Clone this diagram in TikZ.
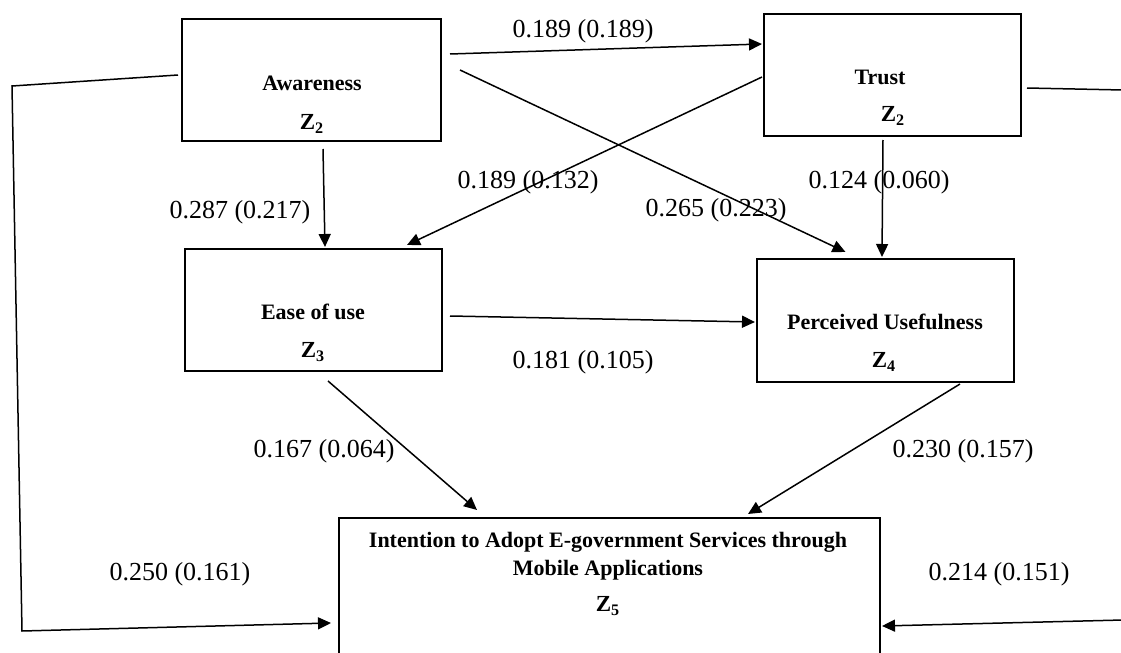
\documentclass[tikz,border=0pt]{standalone}
\usepackage{fontspec}
\setmainfont{Liberation Serif}
\usetikzlibrary{arrows.meta,calc}
\begin{document}
\begin{tikzpicture}[x=0.5pt,y=-0.5pt,
  box/.style={draw=black,line width=0.8pt,inner sep=0pt,outer sep=0pt},
  ttl/.style={font=\fontsize{11}{13}\selectfont\bfseries,inner sep=0pt,align=center},
  zz/.style={font=\fontsize{11.5}{13}\selectfont\bfseries,inner sep=0pt},
  lbl/.style={font=\fontsize{13}{15}\selectfont,inner sep=0pt},
  conn/.style={line width=0.75pt,-{Triangle[length=6.5pt,width=6pt]}},
  plain/.style={line width=0.75pt}]
\path[use as bounding box,clip] (0,0) rectangle (1121,653);
\fill[white] (0,0) rectangle (1121,653);
% boxes
\node[box,minimum width=129.5pt,minimum height=61pt] (aw) at (311.5,80) {};
\node[box,minimum width=128.5pt,minimum height=61pt] (tr) at (892.5,75) {};
\node[box,minimum width=128.5pt,minimum height=61pt] (eu) at (313.5,310) {};
\node[box,minimum width=128.5pt,minimum height=61.5pt] (pu) at (885.5,320.5) {};
\node[box,minimum width=270.5pt,minimum height=91pt] (in) at (609.5,609) {};
% box texts
\node[ttl] (awt) at (312,83) {Awareness};
\node[zz] (awz) at (312,124) {Z\textsubscript{2}};
\node[ttl] (trt) at (880,77) {Trust};
\node[zz] (trz) at (893,116) {Z\textsubscript{2}};
\node[ttl] (eut) at (313,312) {Ease of use};
\node[zz] (euz) at (313,352) {Z\textsubscript{3}};
\node[ttl] (put) at (885,322) {Perceived Usefulness};
\node[zz] (puz) at (884,362) {Z\textsubscript{4}};
\node[ttl] (int1) at (608,542) {Intention to Adopt E-government Services through};
\node[ttl] (int2) at (608,570) {Mobile Applications};
\node[zz] (inz) at (608,606) {Z\textsubscript{5}};
% connectors
\draw[conn] ($(aw.east)+(9,-26)$) -- ($(tr.west)+(-2,-31)$);
\draw[conn] ($(aw.east)+(19,-10)$) -- ($(pu.north)+(-40,-7)$);
\draw[conn] ($(tr.west)+(-2,2)$) -- ($(eu.north)+(93.5,-4)$);
\draw[conn] ($(aw.south)+(11.5,8)$) -- ($(eu.north)+(11.5,-2)$);
\draw[conn] ($(tr.south)+(-9.5,4)$) -- ($(pu.north)+(-3.5,-2)$);
\draw[conn] ($(eu.east)+(8,6)$) -- ($(pu.west)+(-2,1.5)$);
\draw[conn] ($(eu.south)+(14.5,10)$) -- ($(in.north)+(-132.5,-8)$);
\draw[conn] ($(pu.south)+(74.5,2)$) -- ($(in.north)+(138.5,-4)$);
\coordinate (l1) at (12,86);
\coordinate (l2) at (22,631);
\draw[conn] ($(aw.west)+(-4,-5)$) -- (l1) -- (l2) -- ($(in.west)+(-8,14)$);
\coordinate (r1) at (1123,90);
\coordinate (r2) at (1123,620);
\draw[plain] ($(tr.east)+(6,13)$) -- (r1);
\draw[conn] (r2) -- ($(in.east)+(2,17)$);
% labels
\node[lbl] (la) at (583,31) {0.189 (0.189)};
\node[lbl] (lb) at (716,210) {0.265 (0.223)};
\node[lbl] (lc) at (528,182) {0.189 (0.132)};
\node[lbl] (ld) at (240,212) {0.287 (0.217)};
\node[lbl] (le) at (879,182) {0.124 (0.060)};
\node[lbl] (lf) at (583,362) {0.181 (0.105)};
\node[lbl] (lg) at (324,451) {0.167 (0.064)};
\node[lbl] (lh) at (963,451) {0.230 (0.157)};
\node[lbl] (li) at (180,574) {0.250 (0.161)};
\node[lbl] (lj) at (999,574) {0.214 (0.151)};
\end{tikzpicture}
\end{document}
